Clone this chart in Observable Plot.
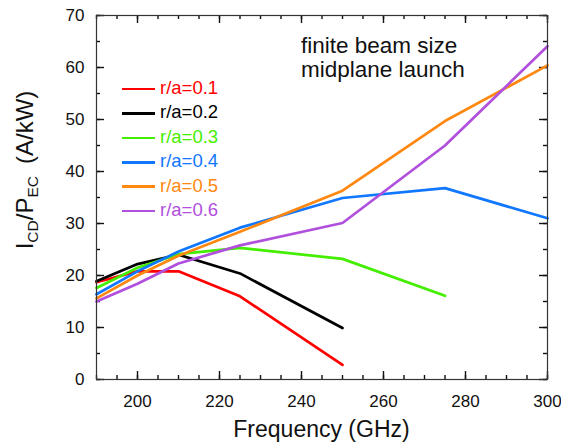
<!DOCTYPE html>
<html><head><meta charset="utf-8">
<script src="https://cdn.jsdelivr.net/npm/d3@7"></script>
<script src="https://cdn.jsdelivr.net/npm/@observablehq/plot@0.6"></script>
<style>
body{margin:0;background:#fff}
#wrap{position:relative;width:561px;height:446px;font-family:"Liberation Sans",Arial,Helvetica,sans-serif}
.leg{position:absolute;left:122px;font-size:18.5px;line-height:1;white-space:nowrap}
.leg span.sw{display:inline-block;width:33px;height:2.5px;vertical-align:middle;margin-right:5px}
</style>
</head><body><div id="wrap"></div><script>
const freqs = [190, 200, 210, 225, 250, 275, 300];
const names = ["r/a=0.1", "r/a=0.2", "r/a=0.3", "r/a=0.4", "r/a=0.5", "r/a=0.6"];
const colors = ["#ff0000", "#000000", "#44ee00", "#1177ff", "#ff8811", "#b050dd"];
const ra01 = [18.7, 20.8, 20.8, 16.0, 2.8];
const ra02 = [18.9, 22.2, 24.0, 20.4, 9.9];
const ra03 = [17.6, 21.5, 24.1, 25.3, 23.2, 16.1];
const ra04 = [16.4, 20.8, 24.6, 29.2, 34.9, 36.8, 31.0];
const ra05 = [15.6, 20.0, 23.8, 28.4, 36.3, 49.7, 60.4];
const ra06 = [15.0, 18.4, 22.3, 25.8, 30.1, 45.0, 64.1];
const xMajor = [200, 220, 240, 260, 280, 300];
const xMinor = d3.range(190, 301, 5);
const yMajor = [0, 10, 20, 30, 40, 50, 60, 70];
const yMinor = d3.range(0, 71, 5);
const note = ["finite beam size", "midplane launch"];

const seriesVals = [ra01, ra02, ra03, ra04, ra05, ra06];
const rows = seriesVals.flatMap((vals, i) => vals.map((v, j) => ({f: freqs[j], v, name: names[i]})));

const W = 561, H = 446, mT = 15, mR = 14, mB = 67, mL = 96;
const pw = W - mL - mR, ph = H - mT - mB;
const font = "Liberation Sans, Arial, Helvetica, sans-serif";
const ts = {stroke: "#111", strokeWidth: 1.4};
const plot = Plot.plot({
  width: W, height: H,
  marginTop: mT, marginRight: mR, marginBottom: mB, marginLeft: mL,
  style: {fontFamily: font, fontSize: "17px", color: "#111", background: "#fff", overflow: "visible"},
  x: {domain: [190, 300]},
  y: {domain: [0, 70]},
  color: {domain: names, range: colors},
  marks: [
    // inward ticks on all four sides
    Plot.ruleY(yMinor, {y: d => d, insetRight: pw - 4, ...ts}),
    Plot.ruleY(yMajor, {y: d => d, insetRight: pw - 8, ...ts}),
    Plot.ruleY(yMinor, {y: d => d, insetLeft: pw - 4, ...ts}),
    Plot.ruleY(yMajor, {y: d => d, insetLeft: pw - 8, ...ts}),
    Plot.ruleX(xMinor, {x: d => d, insetTop: ph - 4, ...ts}),
    Plot.ruleX(xMajor, {x: d => d, insetTop: ph - 8, ...ts}),
    Plot.ruleX(xMinor, {x: d => d, insetBottom: ph - 4, ...ts}),
    Plot.ruleX(xMajor, {x: d => d, insetBottom: ph - 8, ...ts}),
    Plot.axisX({anchor: "bottom", ticks: xMajor, tickSize: 0, tickPadding: 15, label: null, fontSize: 17, fill: "#111"}),
    Plot.axisY({anchor: "left", ticks: yMajor, tickSize: 0, tickPadding: 12, label: null, fontSize: 17, fill: "#111"}),
    Plot.line(rows, {x: "f", y: "v", z: "name", stroke: "name", strokeWidth: 2.7, strokeLinejoin: "miter"}),
    Plot.frame({stroke: "#333", strokeWidth: 1.2})
  ]
});

const wrap = document.getElementById("wrap");
wrap.appendChild(plot);
const svg = d3.select(plot);

// annotation
note.forEach((t, i) => {
  svg.append("text")
    .attr("x", 301).attr("y", 53 + i * 24)
    .attr("text-anchor", "start")
    .attr("font-family", font)
    .attr("font-size", 22.5)
    .attr("fill", "#111")
    .text(t);
});

// y-axis label with subscripts
const yl = svg.append("text")
  .attr("transform", "translate(33,170) rotate(-90)")
  .attr("text-anchor", "middle")
  .attr("font-family", font)
  .attr("font-size", 24)
  .attr("fill", "#111");
yl.append("tspan").text("I");
yl.append("tspan").attr("font-size", 15.5).attr("dy", 5).text("CD");
yl.append("tspan").attr("dy", -5).text("/P");
yl.append("tspan").attr("font-size", 15.5).attr("dy", 5).text("EC");
yl.append("tspan").attr("dy", -5).attr("dx", 12).text("(A/kW)");

// x-axis label
svg.append("text")
  .attr("x", (mL + W - mR) / 2).attr("y", 437)
  .attr("text-anchor", "middle")
  .attr("font-family", font)
  .attr("font-size", 23)
  .attr("fill", "#111")
  .text("Frequency (GHz)");

// legend
names.forEach((n, i) => {
  const d = document.createElement("div");
  d.className = "leg";
  d.style.top = (88 + i * 24.4 - 9) + "px";
  d.style.color = colors[i];
  d.innerHTML = `<span class="sw" style="background:${colors[i]}"></span>${n}`;
  wrap.appendChild(d);
});
</script></body></html>
